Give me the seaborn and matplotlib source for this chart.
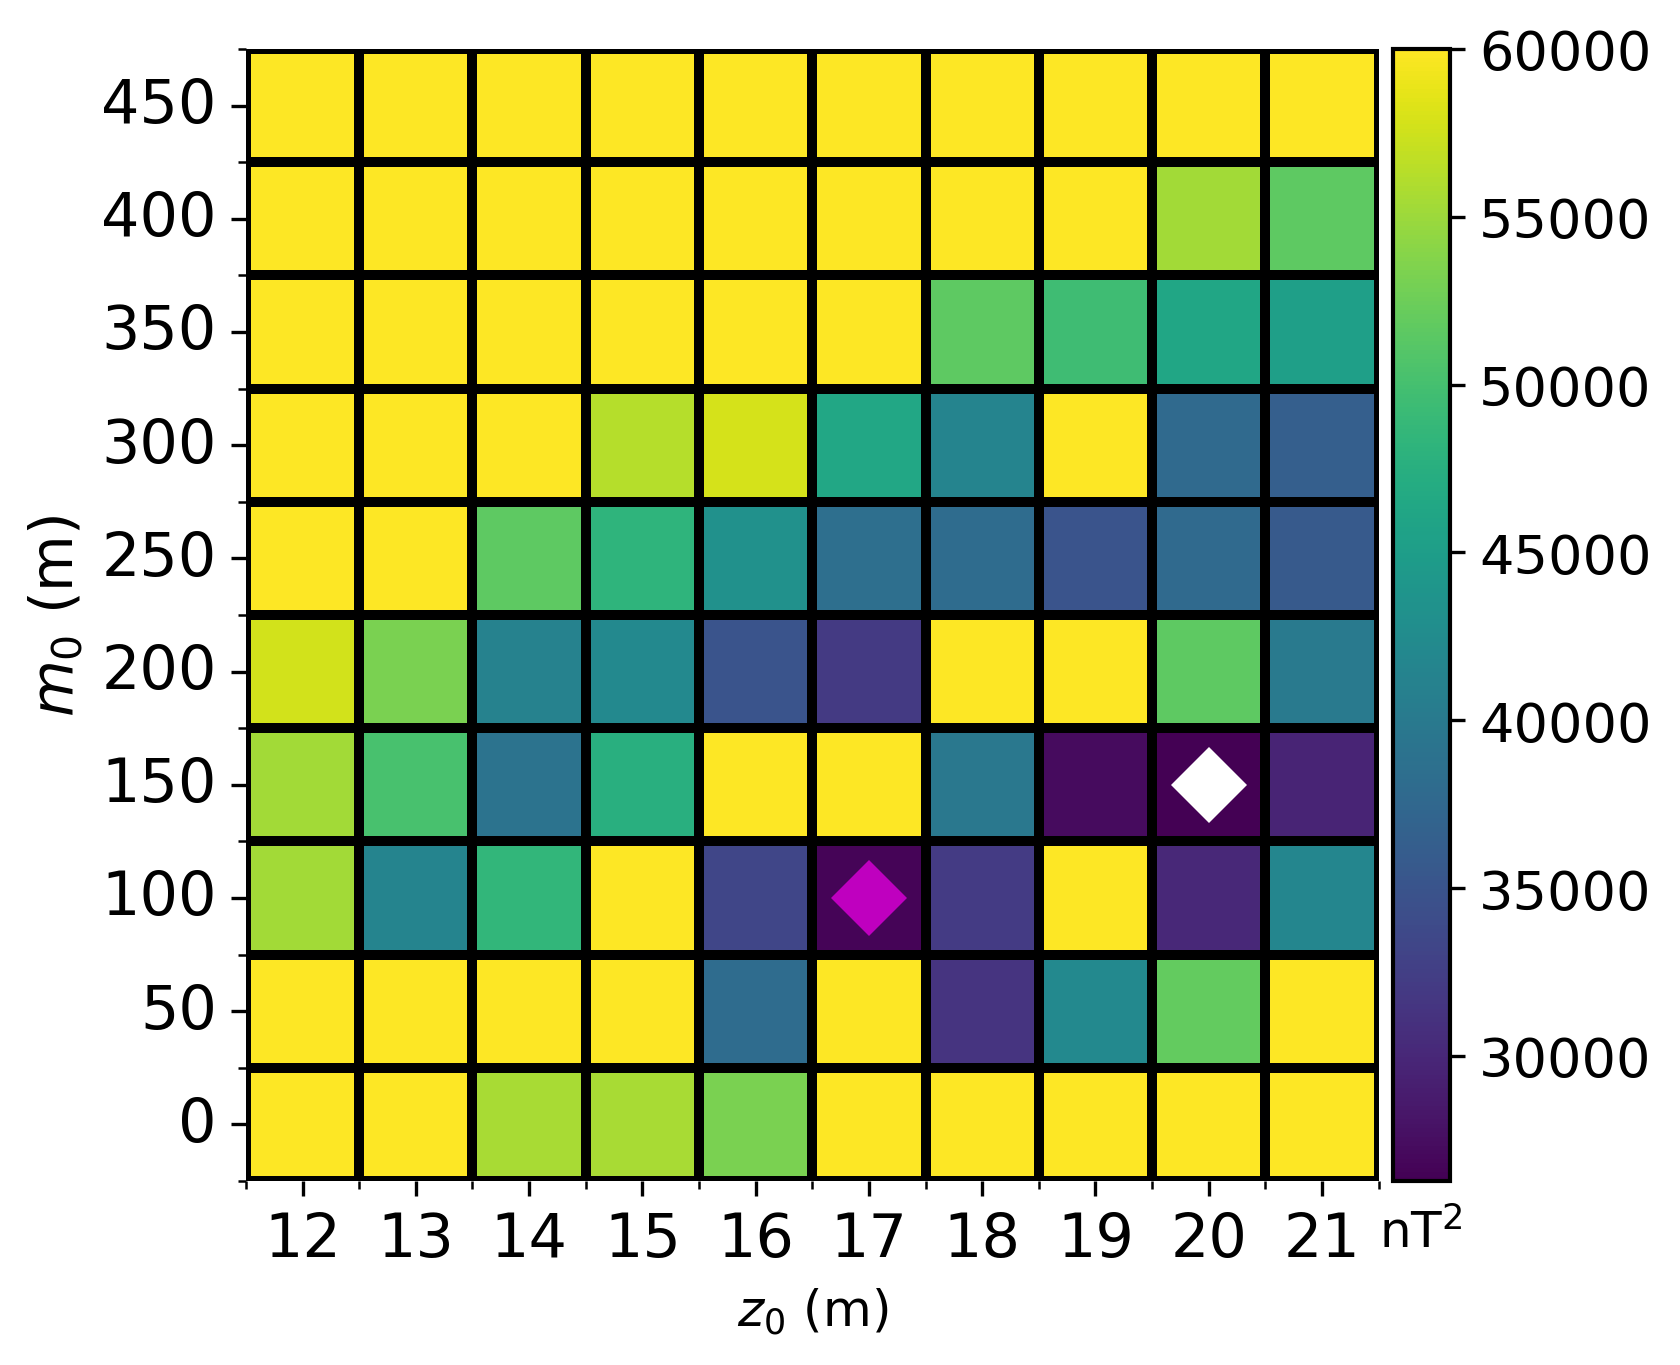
import numpy as np
import pandas as pd
import seaborn as sns
import matplotlib.pyplot as plt

z0 = [12, 13, 14, 15, 16, 17, 18, 19, 20, 21]
m0 = [0, 50, 100, 150, 200, 250, 300, 350, 400, 450]

# misfit (nT^2) per row of m0, columns follow z0; yellow cells are clipped at 60000
phi_m0_0 = [60000, 60000, 55600, 55600, 53250, 60000, 60000, 60000, 60000, 60000]
phi_m0_50 = [60000, 60000, 60000, 60000, 38080, 60000, 31330, 42120, 51900, 60000]
phi_m0_100 = [55280, 41450, 48530, 60000, 33350, 26600, 32170, 60000, 30000, 41800]
phi_m0_150 = [55280, 50220, 39090, 47520, 60000, 60000, 39760, 27200, 26300, 29650]
phi_m0_200 = [57640, 53250, 41110, 42120, 35040, 32000, 60000, 60000, 51570, 40100]
phi_m0_250 = [60000, 60000, 51570, 48190, 43140, 38410, 38080, 35040, 37740, 35710]
phi_m0_300 = [60000, 60000, 60000, 56290, 57810, 46340, 41450, 60000, 37740, 36390]
phi_m0_350 = [60000, 60000, 60000, 60000, 60000, 60000, 51570, 49540, 46170, 45160]
phi_m0_400 = [60000, 60000, 60000, 60000, 60000, 60000, 60000, 60000, 55280, 51570]
phi_m0_450 = [60000, 60000, 60000, 60000, 60000, 60000, 60000, 60000, 60000, 60000]

# markers: true source (magenta) and best solution (white)
true_z0, true_m0 = 17, 100
best_z0, best_m0 = 20, 150

rows = [phi_m0_0, phi_m0_50, phi_m0_100, phi_m0_150, phi_m0_200,
        phi_m0_250, phi_m0_300, phi_m0_350, phi_m0_400, phi_m0_450]
df = pd.DataFrame(rows, index=m0, columns=z0).iloc[::-1]  # largest m0 on top

fig = plt.figure(figsize=(5.6, 4.5533), dpi=300)
ax = fig.add_axes([0.1464, 0.1347, 0.6742, 0.8287])
cax = fig.add_axes([0.829, 0.1347, 0.034, 0.8287])

sns.heatmap(df, ax=ax, cbar_ax=cax, cmap="viridis", vmin=26270, vmax=60000,
            linewidths=2, linecolor="black")

# cell-centre ticks with labels, minor ticks on cell edges
ax.set_xticks(np.arange(len(z0)) + 0.5, labels=[str(v) for v in df.columns],
              rotation=0, fontsize=14.5)
ax.set_yticks(np.arange(len(m0)) + 0.5, labels=[str(v) for v in df.index],
              rotation=0, fontsize=14.5)
ax.set_xticks(np.arange(len(z0) + 1), minor=True)
ax.set_yticks(np.arange(len(m0) + 1), minor=True)
ax.tick_params(which="major", length=3.5, width=0.8)
ax.tick_params(which="minor", length=2, width=0.6)

def cell(zv, mv):
    return list(df.columns).index(zv) + 0.5, list(df.index).index(mv) + 0.5

x, y = cell(true_z0, true_m0)
ax.plot(x, y, "D", color="m", ms=13, mec="none")
x, y = cell(best_z0, best_m0)
ax.plot(x, y, "D", color="white", ms=13, mec="none")

ax.set_xlabel("$z_0$ (m)", fontsize=12)
ax.set_ylabel("$m_0$ (m)", fontsize=14)

cbar = ax.collections[0].colorbar
cbar.outline.set_linewidth(1)
cbar.outline.set_edgecolor("black")
cbar.set_ticks(range(30000, 60001, 5000))
cax.tick_params(labelsize=13, length=3.5, width=0.8)
cax.set_xlabel("nT$^2$", fontsize=12, labelpad=6.5)

plt.savefig("out.png", dpi=300)
